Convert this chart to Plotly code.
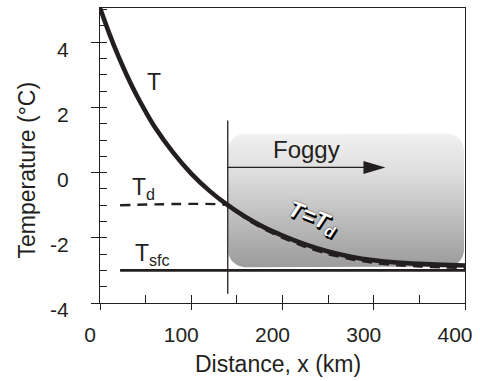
import math
import plotly.graph_objects as go

# ---- data ----
dist_km = [0, 10, 20, 30, 40, 50, 60, 80, 100, 120, 140, 160, 180, 200, 225, 250, 275, 300, 325, 350, 375, 400]
temp_T = [5.05, 4.28, 3.58, 2.95, 2.38, 1.87, 1.40, 0.62, -0.03, -0.56, -1.0, -1.37, -1.68, -1.93, -2.2,
          -2.42, -2.58, -2.69, -2.76, -2.80, -2.83, -2.85]
dist_td = [22, 140, 160, 180, 200, 225, 250, 275, 300, 325, 350, 375, 400]
temp_Td = [-1.0, -1.0, -1.42, -1.74, -2.0, -2.28, -2.5, -2.66, -2.77, -2.84, -2.88, -2.91, -2.93]
dist_sfc = [22, 400]
temp_sfc = [-3.0, -3.0]
front_x = [140, 140]
front_y = [-3.72, 1.6]
arrow_x = [140, 300]
arrow_y = [0.16, 0.16]
arrow_tip = 308.5
x_ticks = [0, 100, 200, 300, 400]
x_ticktext = ["0", "100", "200", "300", "400"]
y_ticks = [-4, -2, 0, 2, 4]
y_ticktext = ["-4", "-2", "0", "2", "4"]
fog_x0, fog_x1, fog_y0, fog_y1 = 140, 399, -2.9, 1.2

INK = "#231f20"
FONT = "Liberation Sans, Arial, Helvetica, sans-serif"

# plot geometry (pixels)
W, H = 480, 381
ML, MR, MT, MB = 100, 7.5, 7, 78
pw, ph = W - ML - MR, H - MT - MB
XR = [0, 400]
YR = [-4, 5.05]
kx = pw / (XR[1] - XR[0])
ky = ph / (YR[1] - YR[0])

# rounded rectangle outline for the foggy region
r_px = 18
rx, ry = r_px / kx, r_px / ky
box_x, box_y = [], []
corners = [
    (fog_x1 - rx, fog_y1 - ry, 0, 90),
    (fog_x0 + rx, fog_y1 - ry, 90, 180),
    (fog_x0 + rx, fog_y0 + ry, 180, 270),
    (fog_x1 - rx, fog_y0 + ry, 270, 360),
]
for cx, cy, a0, a1 in corners:
    for i in range(13):
        a = math.radians(a0 + (a1 - a0) * i / 12)
        box_x.append(cx + rx * math.cos(a))
        box_y.append(cy + ry * math.sin(a))
box_x.append(box_x[0])
box_y.append(box_y[0])

fig = go.Figure()

fig.add_trace(go.Scatter(
    x=box_x, y=box_y, mode="lines", fill="toself", line=dict(width=0, color="rgba(0,0,0,0)"),
    fillgradient=dict(type="vertical", start=fog_y0, stop=fog_y1,
                      colorscale=[[0, "#9b9b9b"], [0.35, "#bcbcbc"], [0.7, "#dddddd"], [1, "#f1f1f1"]]),
    hoverinfo="skip", showlegend=False))

fig.add_trace(go.Scatter(x=front_x, y=front_y, mode="lines",
                         line=dict(color=INK, width=1.3), hoverinfo="skip", showlegend=False))
fig.add_trace(go.Scatter(x=arrow_x, y=arrow_y, mode="lines",
                         line=dict(color=INK, width=1.3), hoverinfo="skip", showlegend=False))
fig.add_trace(go.Scatter(x=dist_sfc, y=temp_sfc, mode="lines",
                         line=dict(color=INK, width=2.6), showlegend=False, name="Tsfc"))
fig.add_trace(go.Scatter(x=dist_td, y=temp_Td, mode="lines",
                         line=dict(color=INK, width=2.4, dash="10px,7px", shape="spline", smoothing=0.4),
                         showlegend=False, name="Td"))
fig.add_trace(go.Scatter(x=dist_km, y=temp_T, mode="lines",
                         line=dict(color=INK, width=4.6, shape="spline", smoothing=0.8),
                         showlegend=False, name="T"))
# helper trace for the inside tick axes
fig.add_trace(go.Scatter(x=[None], y=[None], xaxis="x2", yaxis="y2", showlegend=False, hoverinfo="skip"))

# arrow head
fig.add_shape(type="path", xref="x", yref="y", xsizemode="pixel", ysizemode="pixel",
              xanchor=arrow_tip + 4 / kx, yanchor=arrow_y[0],
              path="M-22,-6.5 L0,0 L-22,6.5 Z", fillcolor=INK, line=dict(width=0))

ann_font = dict(family=FONT, size=23, color=INK)
fig.add_annotation(x=49, y=2.77, xref="x", yref="y", text="T", showarrow=False,
                   xanchor="left", yanchor="middle", font=ann_font)
fig.add_annotation(x=33, y=-0.5, xref="x", yref="y", text="T<sub>d</sub>", showarrow=False,
                   xanchor="left", yanchor="middle", font=ann_font)
fig.add_annotation(x=36, y=-2.5, xref="x", yref="y", text="T<sub>sfc</sub>", showarrow=False,
                   xanchor="left", yanchor="middle", font=ann_font)
fig.add_annotation(x=226, y=0.7, xref="x", yref="y", text="Foggy", showarrow=False,
                   xanchor="center", yanchor="middle", font=dict(family=FONT, size=24, color=INK))
fig.add_annotation(x=234, y=-1.4, xref="x", yref="y", text="T=T<sub>d</sub>", showarrow=False,
                   xanchor="center", yanchor="middle", textangle=22,
                   font=dict(family=FONT, size=23, color="white", weight="bold", style="italic",
                             shadow="2px 2px 0px #000, 1px 1px 0px #000, 0px 0px 1.5px #000"))
# axis titles
fig.add_annotation(x=(25 - ML) / pw, y=0.08, xref="paper", yref="y", text="Temperature (°C)",
                   showarrow=False, textangle=-90, xanchor="center", yanchor="middle",
                   font=dict(family=FONT, size=23, color=INK))
fig.add_annotation(x=(281.5 - ML) / pw, y=-(364 - (MT + ph)) / ph, xref="paper", yref="paper",
                   text="Distance, x (km)", showarrow=False, xanchor="center", yanchor="middle",
                   font=dict(family=FONT, size=23, color=INK))

axis_common = dict(showgrid=False, zeroline=False, showline=True, linecolor=INK, linewidth=1.3,
                   mirror=True, tickcolor=INK, tickwidth=1.3,
                   tickfont=dict(family=FONT, size=21, color=INK))

fig.update_layout(
    width=W, height=H,
    margin=dict(l=ML, r=MR, t=MT, b=MB, pad=0),
    paper_bgcolor="white", plot_bgcolor="white",
    xaxis=dict(range=XR, tickvals=x_ticks, ticktext=x_ticktext, ticks="outside", ticklen=6,
               ticklabelshift=-10, ticklabelstandoff=7, **axis_common),
    yaxis=dict(range=YR, tickvals=y_ticks, ticktext=y_ticktext, ticks="outside", ticklen=8,
               ticklabelshift=7, ticklabelstandoff=18, **axis_common),
    xaxis2=dict(range=XR, overlaying="x", anchor="y2", side="bottom", ticks="inside", ticklen=8,
                tick0=0, dtick=50, tickcolor=INK, tickwidth=1.3, showticklabels=False,
                showline=False, showgrid=False, zeroline=False),
    yaxis2=dict(range=YR, overlaying="y", anchor="x2", side="left", ticks="inside", ticklen=7,
                tick0=-4, dtick=0.5, tickcolor=INK, tickwidth=1.3, showticklabels=False,
                showline=False, showgrid=False, zeroline=False),
)

fig.write_html("out.html")
